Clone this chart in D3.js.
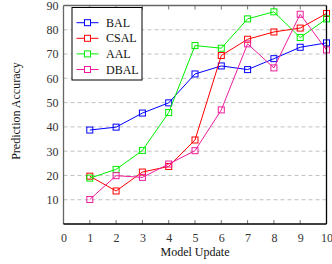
<!DOCTYPE html>
<html>
<head>
<meta charset="utf-8">
<script src="https://cdn.jsdelivr.net/npm/d3@7"></script>
<style>
  body { margin: 0; background: #fff; }
  svg { display: block; font-family: "Liberation Serif", "DejaVu Serif", serif; }
</style>
</head>
<body>
<div id="chart"></div>
<script>
// model update steps
var updates = [1, 2, 3, 4, 5, 6, 7, 8, 9, 10];
var seriesNames = ["BAL", "CSAL", "AAL", "DBAL"];
var balValues  = [38.7, 39.9, 45.7, 49.9, 61.8, 65.1, 63.6, 68.1, 72.8, 74.6];
var csalValues = [19.7, 13.6, 21.4, 23.7, 34.6, 69.4, 76.1, 79.1, 80.7, 86.7];
var aalValues  = [18.9, 22.5, 30.3, 45.9, 73.5, 72.4, 84.5, 87.4, 76.8, 84.5];
var dbalValues = [10.1, 19.9, 19.2, 24.7, 30.2, 47.0, 74.2, 64.3, 86.4, 71.7];
var xTicks = [0, 1, 2, 3, 4, 5, 6, 7, 8, 9, 10];
var yTicks = [10, 20, 30, 40, 50, 60, 70, 80, 90];

var colors = ["#0000ff", "#ff0000", "#00ee00", "#ee1c9c"];
var allValues = [balValues, csalValues, aalValues, dbalValues];

var W = 332, H = 264;
var margin = { top: 5.5, right: 5.5, bottom: 40, left: 63.5 };
var width = W - margin.left - margin.right,
    height = H - margin.top - margin.bottom;

var svg = d3.select("#chart").append("svg")
  .attr("width", W).attr("height", H);
var g = svg.append("g")
  .attr("transform", "translate(" + margin.left + "," + margin.top + ")");

var x = d3.scaleLinear().domain([0, 10]).range([0, width]);
var y = d3.scaleLinear().domain([0, 90]).range([height, 0]);

// dashed grid
g.selectAll(".grid").data(yTicks.filter(function(d){ return d < 90; }))
  .enter().append("line")
  .attr("x1", 0).attr("x2", width)
  .attr("y1", function(d){ return y(d); }).attr("y2", function(d){ return y(d); })
  .attr("stroke", "#c0c0c0").attr("stroke-width", 1)
  .attr("stroke-dasharray", "4,3");

// inward ticks, top and bottom
g.selectAll(".tb").data(xTicks.slice(1, -1)).enter().append("line")
  .attr("x1", function(d){ return x(d); }).attr("x2", function(d){ return x(d); })
  .attr("y1", height).attr("y2", height - 4)
  .attr("stroke", "#777");
g.selectAll(".tt").data(xTicks.slice(1, -1)).enter().append("line")
  .attr("x1", function(d){ return x(d); }).attr("x2", function(d){ return x(d); })
  .attr("y1", 0).attr("y2", 4)
  .attr("stroke", "#777");

// axes labels via d3 axes
var xAxis = d3.axisBottom(x).tickValues(xTicks).tickSize(0).tickPadding(9);
var gx = g.append("g").attr("transform", "translate(0," + height + ")").call(xAxis);
gx.select(".domain").remove();
gx.selectAll("text").attr("font-size", 12).attr("fill", "#333")
  .attr("font-family", "Liberation Serif, serif");

var yAxis = d3.axisLeft(y).tickValues(yTicks).tickSize(0).tickPadding(5);
var gy = g.append("g").call(yAxis);
gy.select(".domain").remove();
gy.selectAll("text").attr("font-size", 12).attr("fill", "#333")
  .attr("font-family", "Liberation Serif, serif");

// frame: left/top gray, bottom/right black
g.append("line").attr("x1", 0).attr("x2", 0).attr("y1", 0).attr("y2", height)
  .attr("stroke", "#666").attr("stroke-width", 1.3);
g.append("line").attr("x1", 0).attr("x2", width).attr("y1", 0).attr("y2", 0)
  .attr("stroke", "#666").attr("stroke-width", 1.3);

var line = d3.line()
  .x(function(d, i){ return x(updates[i]); })
  .y(function(d){ return y(d); });

allValues.forEach(function(vals, k){
  var s = g.append("g");
  s.append("path").datum(vals)
    .attr("d", line).attr("fill", "none")
    .attr("stroke", colors[k]).attr("stroke-width", 1);
  s.selectAll("rect").data(vals).enter().append("rect")
    .attr("x", function(d, i){ return x(updates[i]) - 3; })
    .attr("y", function(d){ return y(d) - 3; })
    .attr("width", 6).attr("height", 6)
    .attr("fill", "none").attr("stroke", colors[k]).attr("stroke-width", 1);
});

g.append("line").attr("x1", 0).attr("x2", width).attr("y1", height).attr("y2", height)
  .attr("stroke", "#000").attr("stroke-width", 1.3);
g.append("line").attr("x1", width).attr("x2", width).attr("y1", 0).attr("y2", height)
  .attr("stroke", "#000").attr("stroke-width", 1.3);

// legend
var lg = svg.append("g").attr("transform", "translate(72,7.5)");
lg.append("rect").attr("width", 70).attr("height", 72.5)
  .attr("fill", "#fff").attr("stroke", "#000").attr("stroke-width", 1);
seriesNames.forEach(function(name, k){
  var yy = 15.2 + k * 15.6;
  lg.append("line").attr("x1", 4.5).attr("x2", 26.5).attr("y1", yy).attr("y2", yy)
    .attr("stroke", colors[k]).attr("stroke-width", 1);
  lg.append("rect").attr("x", 12.5).attr("y", yy - 3).attr("width", 6).attr("height", 6)
    .attr("fill", "#fff").attr("stroke", colors[k]);
  lg.append("text").attr("x", 34).attr("y", yy + 4).text(name)
    .attr("font-size", 12).attr("fill", "#111");
});

// axis titles
svg.append("text")
  .attr("x", margin.left + width / 2).attr("y", 256)
  .attr("text-anchor", "middle").attr("font-size", 12).attr("fill", "#111")
  .text("Model Update");
svg.append("text")
  .attr("transform", "translate(20," + 111 + ") rotate(-90)")
  .attr("text-anchor", "middle").attr("font-size", 12).attr("fill", "#111")
  .text("Prediction Accuracy");
</script>
</body>
</html>
